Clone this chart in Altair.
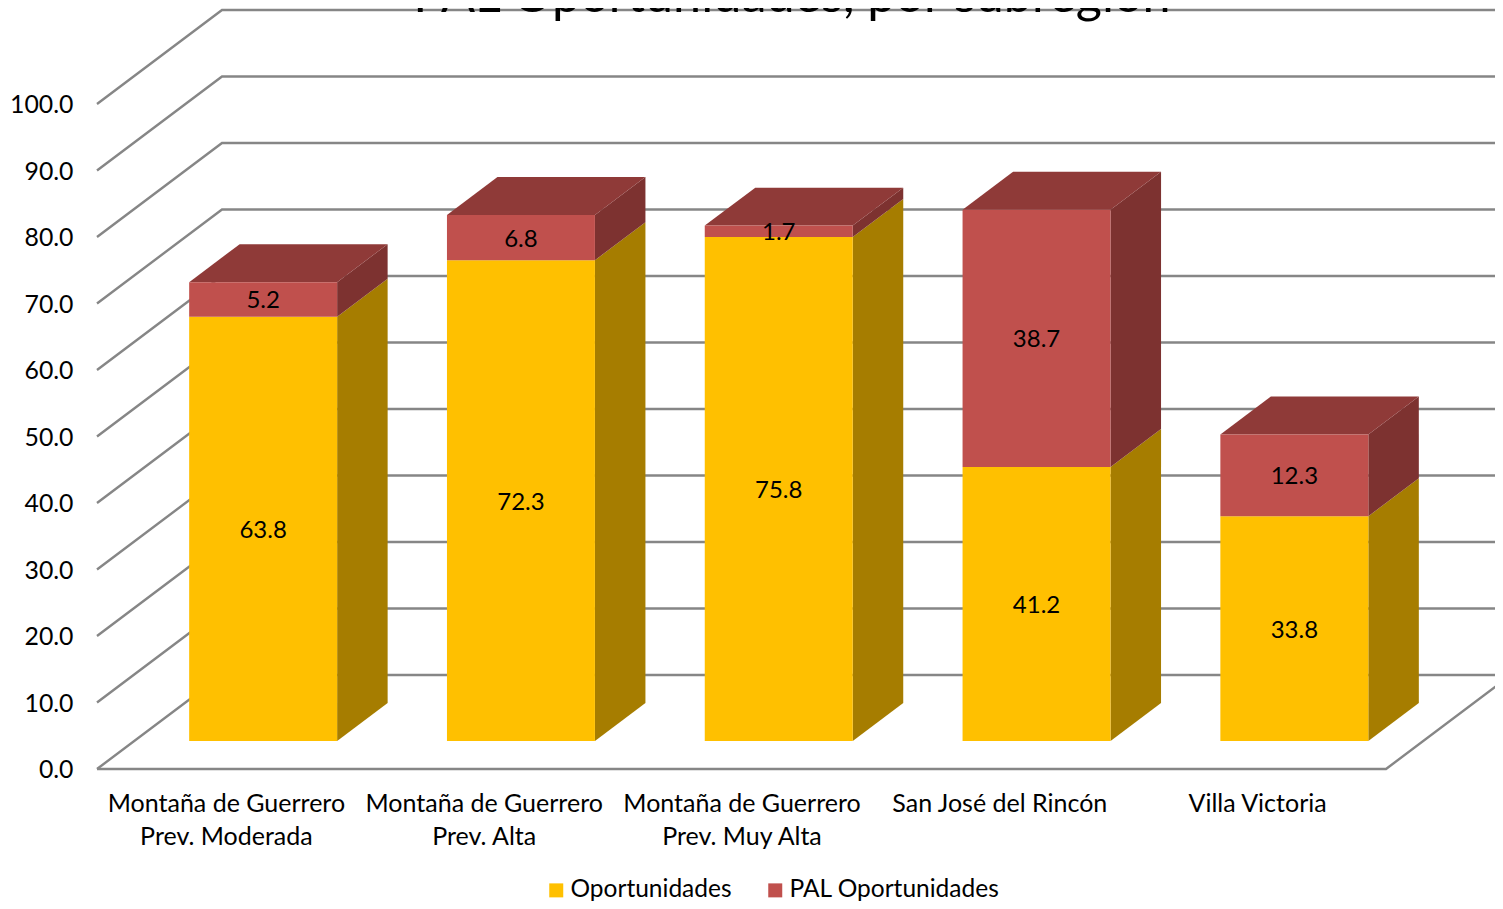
import altair as alt
import pandas as pd

categories = ["Montaña de Guerrero|Prev. Moderada", "Montaña de Guerrero|Prev. Alta",
              "Montaña de Guerrero|Prev. Muy Alta", "San José del Rincón", "Villa Victoria"]
oportunidades = [63.8, 72.3, 75.8, 41.2, 33.8]
pal = [5.2, 6.8, 1.7, 38.7, 12.3]
series_names = ["Oportunidades", "PAL Oportunidades"]
y_ticks = [0, 10, 20, 30, 40, 50, 60, 70, 80, 90, 100]
title_text = "PAL Oportunidades, por subregión"

FONT = "Lato"
W, H = 1398, 761
PX_CAT, PX_UNIT = 257.8, 6.65
XMAX, YMAX = W / PX_CAT, H / PX_UNIT
DX, DY = 125 / PX_CAT, 94 / PX_UNIT      # full floor depth, in scale units
D0, D1 = 0.298, 0.702                    # bar front / back as fraction of depth
BAR = 0.574

x_sc = alt.Scale(domain=[0, XMAX], nice=False, zero=False)
y_sc = alt.Scale(domain=[0, YMAX], nice=False, zero=False)

x_axis = None
y_axis = None
def X(f): return alt.X(f, type="quantitative", scale=x_sc, axis=x_axis, title=None)
def Y(f): return alt.Y(f, type="quantitative", scale=y_sc, axis=y_axis, title=None)

fronts, sides, tops, labels = [], [], [], []
lift = D0 * DY
sx, sy = (D1 - D0) * DX, (D1 - D0) * DY
for i in range(len(categories)):
    x0 = i + 0.5 - BAR / 2 + D0 * DX
    x1 = x0 + BAR
    base = lift
    for name, v in zip(series_names, (oportunidades[i], pal[i])):
        top = base + v
        fronts.append(dict(series=name, x=x0, x2=x1, y=base, y2=top))
        labels.append(dict(x=(x0 + x1) / 2, y=(base + top) / 2, v=v))
        sides.append(dict(series=name, g=i, x=x1, y=top, y2=base))
        sides.append(dict(series=name, g=i, x=x1 + sx, y=top + sy, y2=base + sy))
        base = top
    tops.append(dict(g=i, y=base, x=x0, x2=x1))
    tops.append(dict(g=i, y=base + sy, x=x0 + sx, x2=x1 + sx))

rows = []
for k in y_ticks:
    rows += [dict(g=f"w{k}", o=0, x=0, y=k), dict(g=f"w{k}", o=1, x=DX, y=k + DY),
             dict(g=f"w{k}", o=2, x=len(categories) + DX, y=k + DY)]
rows += [dict(g="f", o=0, x=0, y=0), dict(g="f", o=1, x=len(categories), y=0),
         dict(g="f", o=2, x=len(categories) + DX, y=DY)]
grid = pd.DataFrame(rows)
fronts, sides, tops, labels = map(pd.DataFrame, (fronts, sides, tops, labels))

cats_expr = "[" + ",".join(
    "[" + ",".join(f'"{p}"' for p in c.split("|")) + "]" for c in categories) + "][floor(datum.value)]"

x_axis = alt.Axis(values=[i + 0.5 for i in range(len(categories))], labelExpr=cats_expr,
                  domain=False, ticks=False, grid=False, labelFont=FONT, labelFontSize=25,
                  labelColor="#000000", labelPadding=22, labelLineHeight=33, labelAngle=0,
                  labelAlign="center", labelOverlap=False, labelBound=False, labelFlush=False,
                  labelLimit=400)
y_axis = alt.Axis(values=y_ticks, format=".1f", domain=False, ticks=False, grid=False,
                  labelFont=FONT, labelFontSize=24.8, labelColor="#000000", labelPadding=24,
                  labelOffset=1.5)

lines = alt.Chart(grid).mark_line(color="#868686", strokeWidth=2.4).encode(
    x=X("x"), y=Y("y"), detail="g:N", order="o:Q")

side_cols = {"Oportunidades": "#A67D00", "PAL Oportunidades": "#7D3230"}
side_layers = [
    alt.Chart(sides[sides.series == s]).mark_area(orient="vertical", color=c).encode(
        x=X("x"), y=Y("y"), y2="y2", detail="g:N")
    for s, c in side_cols.items()
]
top_layer = alt.Chart(tops).mark_area(orient="horizontal", color="#8F3A38").encode(
    y=Y("y"), x=X("x"), x2="x2", detail="g:N")

front = alt.Chart(fronts).mark_rect().encode(
    x=X("x"), x2="x2", y=Y("y"), y2="y2",
    color=alt.Color("series:N", title=None,
                    scale=alt.Scale(domain=series_names, range=["#FFC000", "#C0504D"]),
                    legend=alt.Legend(orient="none", legendX=447, legendY=870, direction="horizontal",
                                      symbolType="square", symbolSize=196, symbolStrokeWidth=0,
                                      labelFont=FONT, labelFontSize=24.5, labelColor="#000000",
                                      labelLimit=400, columnPadding=31, labelOffset=2)))
text = alt.Chart(labels).mark_text(font=FONT, fontSize=24, color="#000000", dy=2).encode(
    x=X("x"), y=Y("y"), text=alt.Text("v:Q", format=".1f"))

title_mark = alt.Chart(pd.DataFrame({"t": [title_text]})).mark_text(
    font=FONT, fontSize=50.3, color="#000000", align="center", baseline="alphabetic").encode(
    x=alt.value(695), y=alt.value(4), text="t:N")

chart = alt.layer(lines, *side_layers, top_layer, front, text, title_mark).properties(
    width=W, height=H,
    autosize=alt.AutoSizeParams(type="none"),
    padding={"left": 89, "top": 0, "right": 0, "bottom": 132},
).configure_view(stroke=None)

chart.save("out.html", embed_options={"renderer": "svg", "actions": False})
